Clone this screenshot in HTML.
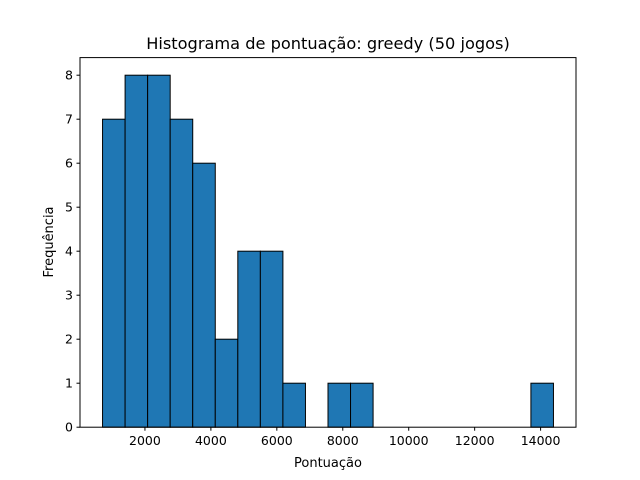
<!DOCTYPE html>
<html><head><meta charset="utf-8"><style>body{margin:0;background:#fff}svg{display:block}text{font-family:"DejaVu Sans","Liberation Sans",sans-serif;fill:#000}</style></head>
<body>
<svg id="chart" width="640" height="480">
<text x="328" y="49" font-size="16.2" text-anchor="middle">Histograma de pontuação: greedy (50 jogos)</text>
<text x="328" y="467" font-size="13" text-anchor="middle">Pontuação</text>
<text transform="translate(53,242) rotate(-90)" font-size="13" text-anchor="middle">Frequência</text>
<g id="bars"></g><g id="ticks"></g>
<rect x="80" y="57.6" width="496" height="369.6" fill="none" stroke="#000" stroke-width="1"/>
</svg>
<script>
const counts = [7,8,8,7,6,2,4,4,1,0,1,1,0,0,0,0,0,0,0,1];
const binMin = 714;
const binMax = 14390;
const xTicks = [2000,4000,6000,8000,10000,12000,14000];
const yTicks = [0,1,2,3,4,5,6,7,8];
const ns="http://www.w3.org/2000/svg";
const X0=80,X1=576,Y0=427.2,Y1=57.6;
const margin=(binMax-binMin)*0.05, xmin=binMin-margin, xmax=binMax+margin;
const ymax=Math.max(...counts)*1.05;
const sx=v=>X0+(v-xmin)/(xmax-xmin)*(X1-X0);
const sy=v=>Y0-v/ymax*(Y0-Y1);
const bars=document.getElementById('bars'), ticks=document.getElementById('ticks');
const w=(binMax-binMin)/counts.length;
counts.forEach((c,i)=>{
  if(c<=0) return;
  const r=document.createElementNS(ns,'rect');
  const a=sx(binMin+i*w), b=sx(binMin+(i+1)*w);
  r.setAttribute('x',a);r.setAttribute('y',sy(c));r.setAttribute('width',b-a);r.setAttribute('height',Y0-sy(c));
  r.setAttribute('fill','#1f77b4');r.setAttribute('stroke','#000');r.setAttribute('stroke-width','1');
  
  
  bars.appendChild(r);
});
xTicks.forEach(t=>{
  const x=sx(t);
  const l=document.createElementNS(ns,'line');
  l.setAttribute('x1',x);l.setAttribute('x2',x);l.setAttribute('y1',Y0);l.setAttribute('y2',Y0+3.5);l.setAttribute('stroke','#000');
  
  
  ticks.appendChild(l);
  const tx=document.createElementNS(ns,'text');
  tx.setAttribute('x',x);tx.setAttribute('y',Y0+18);tx.setAttribute('font-size','12.5');tx.setAttribute('text-anchor','middle');tx.textContent=t;
  
  
  ticks.appendChild(tx);
});
yTicks.forEach(t=>{
  const y=sy(t);
  const l=document.createElementNS(ns,'line');
  l.setAttribute('x1',X0-3.5);l.setAttribute('x2',X0);l.setAttribute('y1',y);l.setAttribute('y2',y);l.setAttribute('stroke','#000');
  
  
  ticks.appendChild(l);
  const tx=document.createElementNS(ns,'text');
  tx.setAttribute('x',X0-7);tx.setAttribute('y',y+4.5);tx.setAttribute('font-size','12.5');tx.setAttribute('text-anchor','end');tx.textContent=t;
  
  
  ticks.appendChild(tx);
});
</script>
</body></html>
